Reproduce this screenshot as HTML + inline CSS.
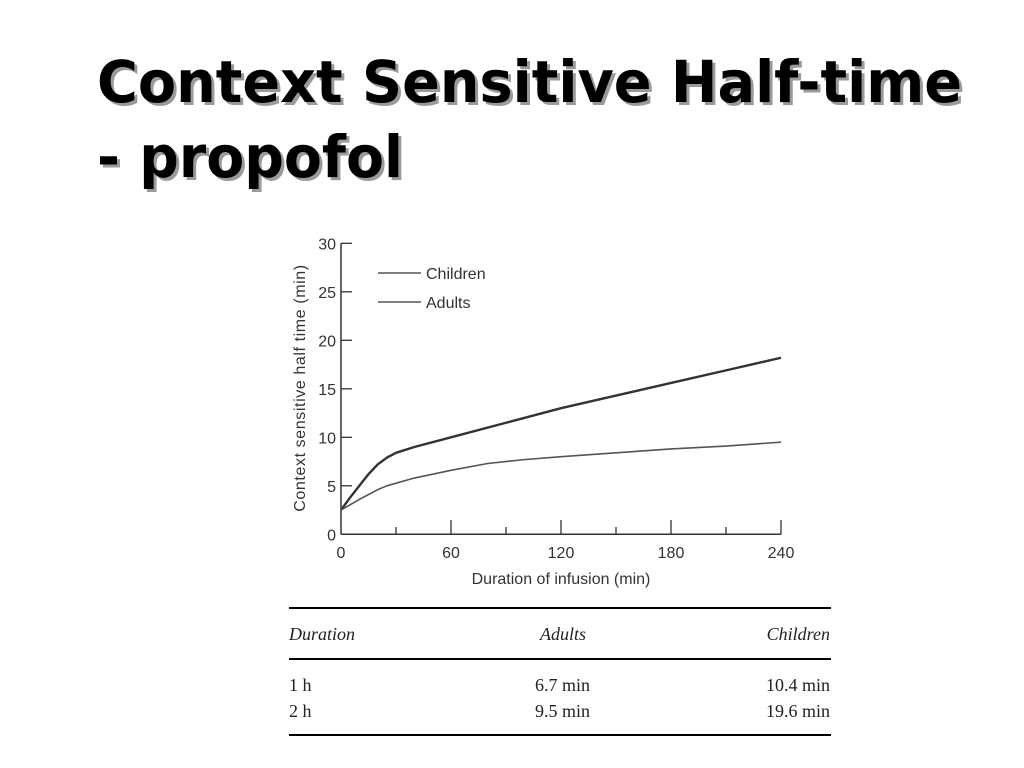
<!DOCTYPE html>
<html><head><meta charset="utf-8"><style>
html,body{margin:0;padding:0;background:#fff;}
svg{display:block;}
</style></head><body>
<svg width="1024" height="768" viewBox="0 0 1024 768">
<g font-family="'DejaVu Sans',sans-serif" font-weight="bold" font-size="58">
 <text x="100" y="105" fill="#9a9a9a" textLength="865" lengthAdjust="spacingAndGlyphs">Context Sensitive Half-time</text>
 <text x="100" y="180" fill="#9a9a9a" textLength="306" lengthAdjust="spacingAndGlyphs">- propofol</text>
 <text x="97" y="102" fill="#000" textLength="865" lengthAdjust="spacingAndGlyphs">Context Sensitive Half-time</text>
 <text x="97" y="177" fill="#000" textLength="306" lengthAdjust="spacingAndGlyphs">- propofol</text>
</g>
<g id="chart" font-family="'Liberation Sans',sans-serif" fill="#333"></g>
<g font-family="'Liberation Serif',serif" font-size="18" fill="#222">
 <line x1="289" y1="608" x2="831" y2="608" stroke="#000" stroke-width="2"/>
 <line x1="289" y1="659" x2="831" y2="659" stroke="#000" stroke-width="2"/>
 <line x1="289" y1="735" x2="831" y2="735" stroke="#000" stroke-width="2"/>
 <g font-style="italic">
  <text x="289" y="640">Duration</text>
  <text x="586" y="640" text-anchor="end">Adults</text>
  <text x="830" y="640" text-anchor="end">Children</text>
 </g>
 <text x="289" y="691">1 h</text>
 <text x="590" y="691" text-anchor="end">6.7 min</text>
 <text x="830" y="691" text-anchor="end">10.4 min</text>
 <text x="289" y="717">2 h</text>
 <text x="590" y="717" text-anchor="end">9.5 min</text>
 <text x="830" y="717" text-anchor="end">19.6 min</text>
</g>
</svg>
<script>
const xTicks=[0,60,120,180,240];
const xMinor=[30,90,150,210];
const yTicks=[0,5,10,15,20,25,30];
const upperX=[0,5,10,15,20,25,30,40,60,90,120,150,180,210,240];
const upperY=[2.5,3.8,5.0,6.2,7.2,7.9,8.4,9.0,10.0,11.5,13.0,14.3,15.6,16.9,18.2];
const lowerX=[0,10,20,25,40,60,80,100,120,150,180,210,240];
const lowerY=[2.5,3.6,4.6,5.0,5.8,6.6,7.3,7.7,8.0,8.4,8.8,9.1,9.5];
const NS='http://www.w3.org/2000/svg';
const g=document.getElementById('chart');
const X=v=>341+v*(440/240);
const Y=v=>534.3-v*(291/30);
function mk(t,a){const e=document.createElementNS(NS,t);for(const k in a)e.setAttribute(k,a[k]);g.appendChild(e);return e;}
let e=mk('line',{x1:341,y1:Y(30),x2:341,y2:534.3,stroke:'#333','stroke-width':1.5});


e=mk('line',{x1:341,y1:534.3,x2:781,y2:534.3,stroke:'#333','stroke-width':1.5});


yTicks.forEach(v=>{
 let t=mk('line',{x1:341,y1:Y(v),x2:352,y2:Y(v),stroke:'#333','stroke-width':1.3});
 
 
 let l=mk('text',{x:336,y:Y(v)+6,'text-anchor':'end','font-size':16});
 l.textContent=v;
 
 
});
xTicks.forEach(v=>{
 if(v>0){let t=mk('line',{x1:X(v),y1:534.3,x2:X(v),y2:520,stroke:'#333','stroke-width':1.3});
 
 }
 let l=mk('text',{x:X(v),y:558,'text-anchor':'middle','font-size':16});
 l.textContent=v;
 
 
});
xMinor.forEach(v=>{
 let t=mk('line',{x1:X(v),y1:534.3,x2:X(v),y2:527,stroke:'#333','stroke-width':1.3});
 
 
});
function path(xs,ys){let d='M'+X(xs[0])+','+Y(ys[0]);for(let i=1;i<xs.length;i++)d+=' L'+X(xs[i])+','+Y(ys[i]);return d;}
e=mk('path',{d:path(upperX,upperY),fill:'none',stroke:'#333','stroke-width':2.4,'stroke-linejoin':'round'});


e=mk('path',{d:path(lowerX,lowerY),fill:'none',stroke:'#555','stroke-width':1.6,'stroke-linejoin':'round'});


[['Children',273],['Adults',302]].forEach(([n,y])=>{
 let l=mk('line',{x1:378,y1:y,x2:421,y2:y,stroke:'#333','stroke-width':1.3});
 
 
 let t=mk('text',{x:426,y:y+6,'font-size':16});
 t.textContent=n;
 
 
});
e=mk('text',{x:561,y:584,'text-anchor':'middle','font-size':16});
e.textContent='Duration of infusion (min)';


e=mk('text',{x:0,y:0,'text-anchor':'middle','font-size':16,transform:'translate(305,388) rotate(-90)','letter-spacing':'0.6'});
e.textContent='Context sensitive half time (min)';


</script>
</body></html>
